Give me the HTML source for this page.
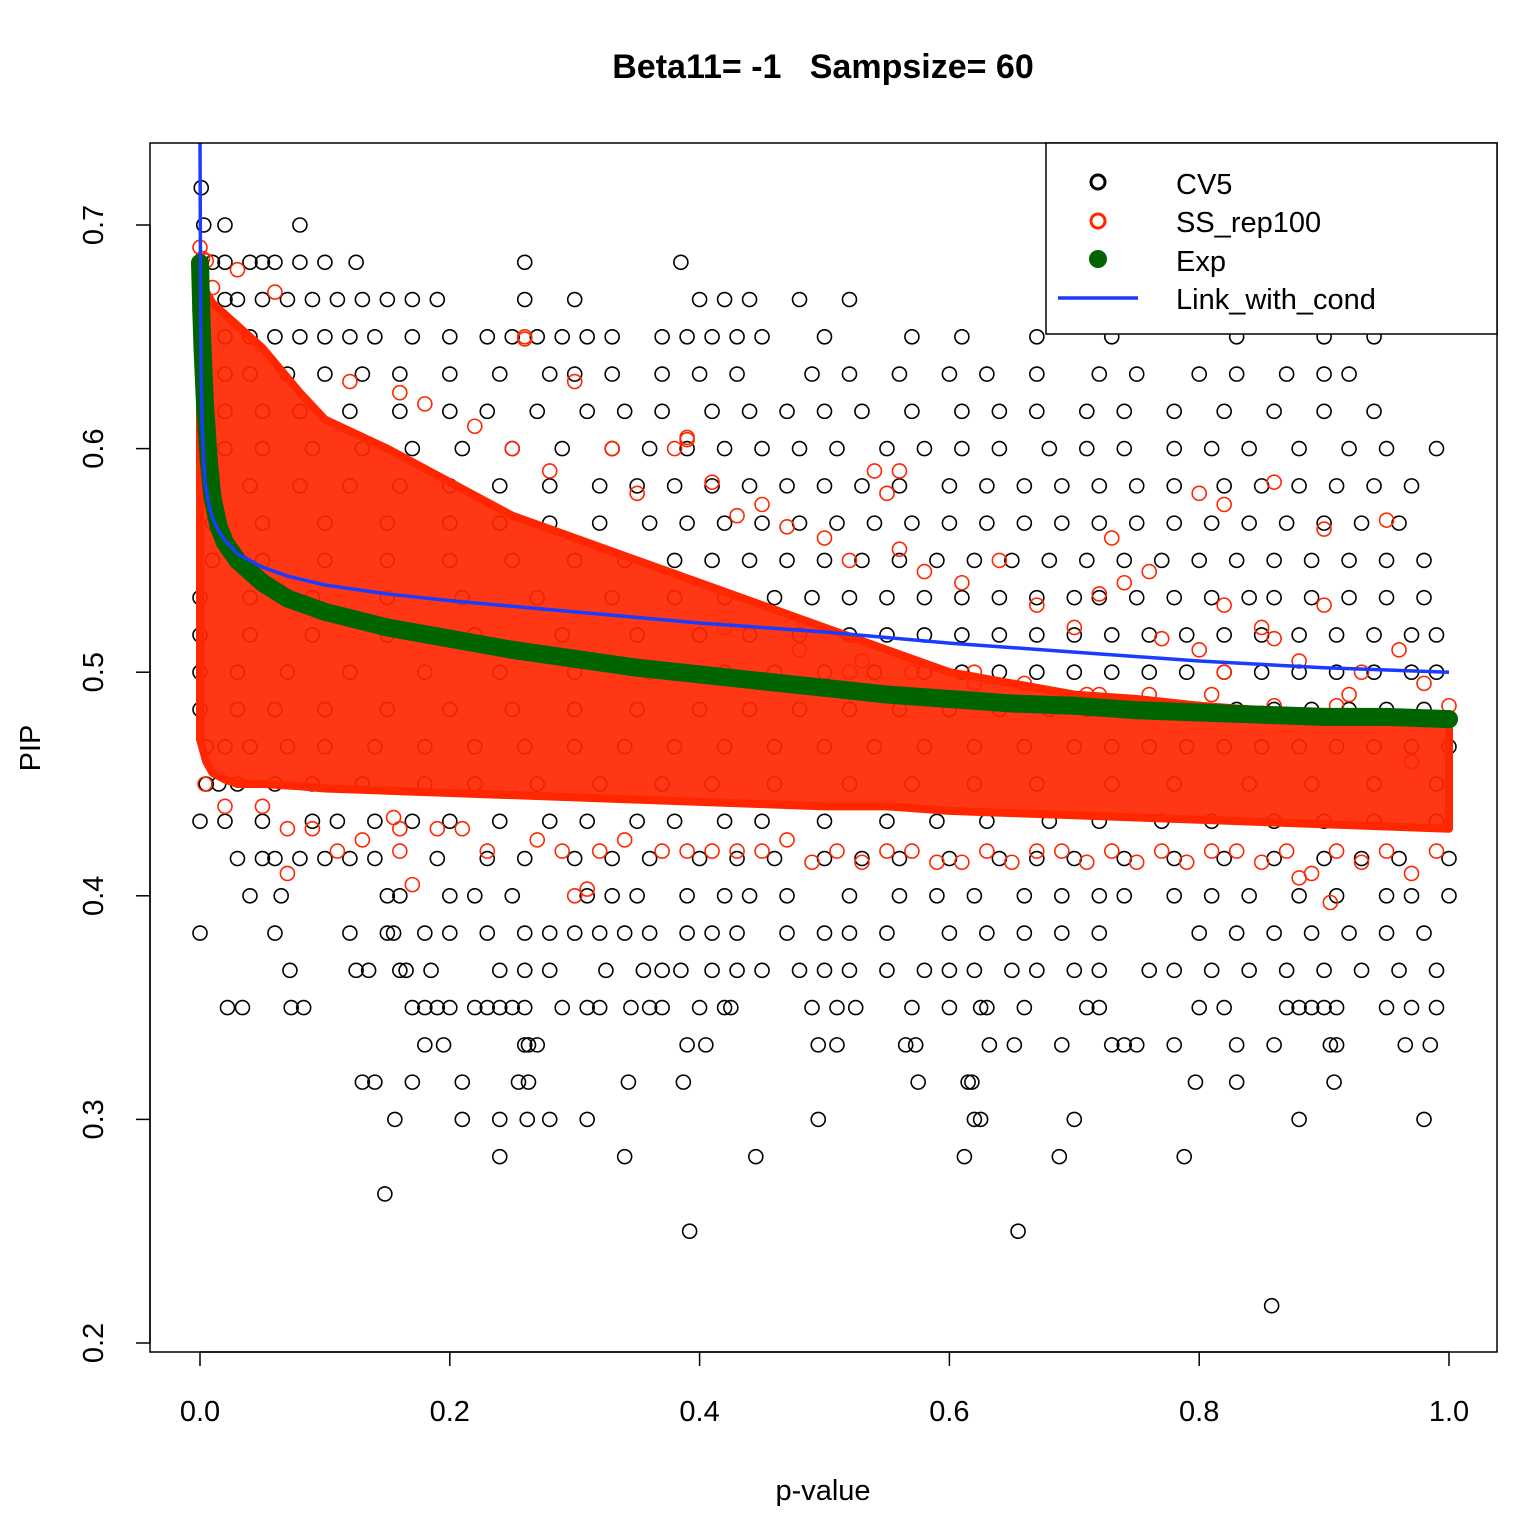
<!DOCTYPE html>
<html><head><meta charset="utf-8"><style>
body{margin:0;background:#fff}
svg text{font-family:"Liberation Sans",Arial,sans-serif}
</style></head><body>
<svg id="chart" width="1518" height="1516" viewBox="0 0 1518 1516" xmlns="http://www.w3.org/2000/svg">
<rect width="1518" height="1516" fill="#fff"/>
<text x="823" y="78" text-anchor="middle" font-size="34" font-weight="bold" style="white-space:pre" xml:space="preserve">Beta11= -1   Sampsize= 60</text>
<g id="marks"></g>
<rect x="150" y="143" width="1347" height="1209" fill="none" stroke="#000" stroke-width="1.5"/>
<g id="axes"></g>
<text x="823" y="1500" text-anchor="middle" font-size="29">p-value</text>
<text transform="translate(40,748) rotate(-90)" text-anchor="middle" font-size="29">PIP</text>
<g>
<rect x="1046" y="143" width="451" height="191" fill="#fff" stroke="#000" stroke-width="1.5"/>
<g><circle cx="1098" cy="182" r="7" fill="none" stroke="#000" stroke-width="3"/><text x="1176" y="194" font-size="29">CV5</text></g>
<g><circle cx="1098" cy="221" r="7" fill="none" stroke="#ff2600" stroke-width="3"/><text x="1176" y="232" font-size="29">SS_rep100</text></g>
<g><circle cx="1098" cy="259" r="9" fill="#006400"/><text x="1176" y="271" font-size="29">Exp</text></g>
<g><line x1="1058" y1="298" x2="1138" y2="298" stroke="#1a3cff" stroke-width="3.5"/><text x="1176" y="309" font-size="29">Link_with_cond</text></g>
</g>
</svg>
<script>
const xTicks=[0,0.2,0.4,0.6,0.8,1.0];
const xTickLabels=["0.0","0.2","0.4","0.6","0.8","1.0"];
const yTicks=[0.2,0.3,0.4,0.5,0.6,0.7];
const yTickLabels=["0.2","0.3","0.4","0.5","0.6","0.7"];
const cvLevels=[13,15,16,17,18,19,20,21,22,23,24,25,26,27,28,29,30,31,32,33,34,35,36,37,38,39,40,41,42,43];
const cvP=[
[0.858],
[0.392,0.655],
[0.148],
[0.24,0.34,0.445,0.612,0.688,0.788],
[0.156,0.21,0.24,0.262,0.28,0.31,0.495,0.62,0.625,0.70,0.88,0.98],
[0.13,0.14,0.17,0.21,0.255,0.263,0.343,0.387,0.575,0.615,0.618,0.797,0.83,0.908],
[0.18,0.195,0.26,0.263,0.27,0.39,0.405,0.495,0.51,0.565,0.573,0.632,0.652,0.69,0.73,0.74,0.75,0.78,0.83,0.86,0.905,0.91,0.965,0.985],
[0.022,0.034,0.073,0.083,0.17,0.18,0.19,0.2,0.22,0.23,0.24,0.25,0.26,0.29,0.31,0.32,0.345,0.36,0.37,0.4,0.42,0.425,0.49,0.51,0.525,0.57,0.6,0.625,0.63,0.66,0.71,0.72,0.8,0.82,0.87,0.88,0.89,0.9,0.91,0.95,0.97,0.99],
[0.072,0.125,0.135,0.16,0.165,0.185,0.24,0.26,0.28,0.325,0.355,0.37,0.385,0.41,0.43,0.45,0.48,0.5,0.52,0.55,0.58,0.6,0.62,0.65,0.67,0.7,0.72,0.76,0.78,0.81,0.84,0.87,0.9,0.93,0.96,0.99],
[0.0,0.06,0.12,0.15,0.155,0.18,0.2,0.23,0.26,0.28,0.3,0.32,0.34,0.36,0.39,0.41,0.43,0.47,0.5,0.52,0.55,0.6,0.63,0.66,0.69,0.72,0.8,0.83,0.86,0.89,0.92,0.95,0.98],
[0.04,0.065,0.15,0.16,0.2,0.22,0.25,0.31,0.33,0.35,0.39,0.42,0.44,0.47,0.52,0.56,0.59,0.62,0.66,0.69,0.72,0.74,0.78,0.81,0.84,0.88,0.91,0.95,0.97,1.0],
[0.03,0.05,0.06,0.08,0.1,0.12,0.14,0.19,0.23,0.26,0.3,0.33,0.36,0.4,0.43,0.46,0.5,0.53,0.56,0.6,0.64,0.67,0.7,0.74,0.78,0.82,0.86,0.9,0.93,0.96,1.0],
[0.0,0.02,0.05,0.09,0.11,0.14,0.17,0.2,0.24,0.28,0.31,0.35,0.38,0.42,0.45,0.5,0.55,0.59,0.63,0.68,0.72,0.77,0.81,0.86,0.9,0.94,0.99],
[0.005,0.015,0.03,0.06,0.09,0.13,0.18,0.22,0.27,0.32,0.37,0.41,0.46,0.52,0.57,0.62,0.67,0.73,0.78,0.84,0.89,0.94,0.99],
[0.005,0.02,0.04,0.07,0.1,0.14,0.18,0.22,0.26,0.3,0.34,0.38,0.42,0.46,0.5,0.54,0.58,0.62,0.66,0.7,0.73,0.76,0.79,0.82,0.85,0.88,0.91,0.94,0.97,1.0],
[0.0,0.03,0.06,0.1,0.15,0.2,0.25,0.3,0.35,0.4,0.44,0.48,0.52,0.56,0.6,0.64,0.68,0.71,0.74,0.77,0.8,0.83,0.86,0.89,0.92,0.95,0.98],
[0.0,0.03,0.07,0.12,0.18,0.24,0.3,0.36,0.42,0.46,0.5,0.54,0.58,0.61,0.64,0.67,0.7,0.73,0.76,0.79,0.82,0.85,0.88,0.91,0.94,0.97,0.99],
[0.0,0.04,0.09,0.15,0.22,0.29,0.35,0.4,0.44,0.48,0.52,0.55,0.58,0.61,0.64,0.67,0.7,0.73,0.76,0.79,0.82,0.85,0.88,0.91,0.94,0.97,0.99],
[0.0,0.04,0.09,0.15,0.21,0.27,0.33,0.38,0.42,0.46,0.49,0.52,0.55,0.58,0.61,0.64,0.67,0.7,0.72,0.75,0.78,0.81,0.84,0.86,0.89,0.92,0.95,0.98],
[0.01,0.05,0.1,0.15,0.2,0.25,0.3,0.34,0.38,0.41,0.44,0.47,0.5,0.53,0.56,0.59,0.62,0.65,0.68,0.71,0.74,0.77,0.8,0.83,0.86,0.89,0.92,0.95,0.98],
[0.01,0.05,0.1,0.15,0.2,0.24,0.28,0.32,0.36,0.39,0.42,0.45,0.48,0.51,0.54,0.57,0.6,0.63,0.66,0.69,0.72,0.75,0.78,0.81,0.84,0.87,0.9,0.93,0.96],
[0.01,0.04,0.08,0.12,0.16,0.2,0.24,0.28,0.32,0.35,0.38,0.41,0.44,0.47,0.5,0.53,0.56,0.6,0.63,0.66,0.69,0.72,0.75,0.78,0.82,0.85,0.88,0.91,0.94,0.97],
[0.02,0.05,0.09,0.13,0.17,0.21,0.25,0.29,0.33,0.36,0.39,0.42,0.45,0.48,0.51,0.55,0.58,0.61,0.64,0.68,0.71,0.74,0.78,0.81,0.84,0.88,0.92,0.95,0.99],
[0.02,0.05,0.08,0.12,0.16,0.2,0.23,0.27,0.31,0.34,0.37,0.41,0.44,0.47,0.5,0.53,0.57,0.61,0.64,0.67,0.71,0.74,0.78,0.82,0.86,0.9,0.94],
[0.02,0.04,0.07,0.1,0.13,0.16,0.2,0.24,0.28,0.3,0.33,0.37,0.4,0.43,0.49,0.52,0.56,0.6,0.63,0.67,0.72,0.75,0.8,0.83,0.87,0.9,0.92],
[0.02,0.04,0.06,0.08,0.1,0.12,0.14,0.17,0.2,0.23,0.25,0.27,0.29,0.31,0.33,0.37,0.39,0.41,0.43,0.45,0.5,0.57,0.61,0.67,0.73,0.83,0.9,0.94],
[0.02,0.03,0.05,0.07,0.09,0.11,0.13,0.15,0.17,0.19,0.26,0.3,0.4,0.42,0.44,0.48,0.52,0.83],
[0.01,0.02,0.04,0.05,0.06,0.08,0.1,0.125,0.26,0.385],
[0.003,0.02,0.08],
[0.001],
[0.0]
];
const ssBandP=[0,0.005,0.01,0.02,0.03,0.05,0.08,0.1,0.15,0.2,0.25,0.3,0.35,0.4,0.45,0.5,0.55,0.6,0.65,0.7,0.75,0.8,0.85,0.9,0.95,1.0];
const ssBandLo=[0.47,0.46,0.455,0.452,0.45,0.45,0.449,0.448,0.447,0.446,0.445,0.444,0.443,0.442,0.441,0.44,0.44,0.438,0.437,0.436,0.435,0.434,0.433,0.432,0.431,0.43];
const ssBandHi=[0.68,0.67,0.665,0.66,0.655,0.645,0.625,0.613,0.6,0.585,0.57,0.56,0.55,0.54,0.53,0.52,0.51,0.5,0.495,0.49,0.488,0.485,0.483,0.482,0.481,0.48];
const ssP=[0.0,0.002,0.005,0.01,0.03,0.06,0.12,0.16,0.18,0.22,0.25,0.26,0.28,0.3,0.33,0.35,0.38,0.39,0.41,0.43,0.45,0.47,0.5,0.52,0.55,0.56,0.58,0.61,0.64,0.67,0.7,0.72,0.74,0.77,0.8,0.82,0.85,0.86,0.88,0.9,0.93,0.96,0.98,
0.02,0.05,0.07,0.09,0.11,0.13,0.16,0.19,0.21,0.23,0.27,0.29,0.32,0.34,0.37,0.39,0.41,0.43,0.45,0.47,0.49,0.51,0.53,0.55,0.57,0.59,0.61,0.63,0.65,0.67,0.69,0.71,0.73,0.75,0.77,0.79,0.81,0.83,0.85,0.87,0.89,0.91,0.93,0.95,0.97,0.99,
0.42,0.48,0.53,0.57,0.62,0.66,0.71,0.76,0.81,0.86,0.91,0.96,1.0,0.52,0.62,0.72,0.82,0.92,0.97,
0.004,0.07,0.16,0.3,0.155,0.17,0.31,0.33,0.39,0.26,0.54,0.56,0.9,0.95,0.97,0.73,0.76,0.8,0.82,0.86,0.88,0.905];
const ssY=[0.69,0.685,0.684,0.672,0.68,0.67,0.63,0.625,0.62,0.61,0.6,0.65,0.59,0.63,0.6,0.58,0.6,0.605,0.585,0.57,0.575,0.565,0.56,0.55,0.58,0.555,0.545,0.54,0.55,0.53,0.52,0.535,0.54,0.515,0.51,0.53,0.52,0.515,0.505,0.53,0.5,0.51,0.495,
0.44,0.44,0.43,0.43,0.42,0.425,0.42,0.43,0.43,0.42,0.425,0.42,0.42,0.425,0.42,0.42,0.42,0.42,0.42,0.425,0.415,0.42,0.415,0.42,0.42,0.415,0.415,0.42,0.415,0.42,0.42,0.415,0.42,0.415,0.42,0.415,0.42,0.42,0.415,0.42,0.41,0.42,0.415,0.42,0.41,0.42,
0.52,0.51,0.505,0.5,0.5,0.495,0.49,0.49,0.49,0.485,0.485,0.48,0.485,0.5,0.495,0.49,0.5,0.49,0.48,
0.45,0.41,0.43,0.4,0.435,0.405,0.403,0.6,0.604,0.649,0.59,0.59,0.564,0.568,0.46,0.56,0.545,0.58,0.575,0.585,0.408,0.397];
const expP=[0,0.001,0.002,0.004,0.007,0.01,0.015,0.02,0.03,0.05,0.07,0.1,0.15,0.2,0.25,0.3,0.35,0.4,0.45,0.5,0.55,0.6,0.65,0.7,0.75,0.8,0.85,0.9,0.95,1.0];
const expY=[0.683,0.662,0.645,0.62,0.595,0.578,0.565,0.558,0.55,0.54,0.533,0.527,0.52,0.515,0.51,0.506,0.502,0.499,0.496,0.493,0.49,0.488,0.486,0.485,0.483,0.482,0.481,0.48,0.48,0.479];
const linkP=[0,0.0005,0.001,0.002,0.004,0.007,0.01,0.015,0.02,0.03,0.05,0.07,0.1,0.15,0.2,0.3,0.4,0.5,0.6,0.7,0.8,0.9,1.0];
const linkY=[0.74,0.66,0.63,0.605,0.585,0.575,0.569,0.563,0.559,0.553,0.547,0.543,0.539,0.535,0.532,0.527,0.522,0.518,0.513,0.509,0.505,0.502,0.5];

const NS="http://www.w3.org/2000/svg";
const X=p=>200+p*1249;
const Y=v=>225+(0.7-v)*2236;
const marks=document.getElementById('marks');
const axes=document.getElementById('axes');
function mk(tag,attrs,parent){const e=document.createElementNS(NS,tag);for(const k in attrs)e.setAttribute(k,attrs[k]);parent.appendChild(e);return e;}
const clip=mk('clipPath',{id:'pc'},marks);mk('rect',{x:150,y:143,width:1347,height:1209},clip);
const g=mk('g',{'clip-path':'url(#pc)'},marks);

const gb=mk('g',{},g);


cvLevels.forEach((k,i)=>{cvP[i].forEach(p=>{
 const c=mk('circle',{cx:X(p),cy:Y(k/60),r:7,fill:'none',stroke:'#000','stroke-width':1.6},gb);
 
 
});});
const gr=mk('g',{},g);


let d='';
ssBandP.forEach((p,i)=>{d+=(i?'L':'M')+X(p)+','+Y(ssBandHi[i]);});
for(let i=ssBandP.length-1;i>=0;i--)d+='L'+X(ssBandP[i])+','+Y(ssBandLo[i]);
const band=mk('path',{d:d+'Z',fill:'#ff2600',stroke:'#ff2600','stroke-width':8,'stroke-linejoin':'round','fill-opacity':0.92},gr);


ssP.forEach((p,i)=>{
 const c=mk('circle',{cx:X(p),cy:Y(ssY[i]),r:7,fill:'none',stroke:'#ff2600','stroke-width':1.6},gr);
 
 
});
const gg=mk('g',{},g);


const ep=mk('polyline',{points:expP.map((p,i)=>X(p)+','+Y(expY[i])).join(' '),fill:'none',stroke:'#006400','stroke-width':18,'stroke-linejoin':'round','stroke-linecap':'round'},gg);


expP.forEach((p,i)=>{
 const c=mk('circle',{cx:X(p),cy:Y(expY[i]),r:9,fill:'#006400'},gg);
 
 
});
const bl=mk('polyline',{points:linkP.map((p,i)=>X(p)+','+Y(linkY[i])).join(' '),fill:'none',stroke:'#1a3cff','stroke-width':3.5},g);



mk('line',{x1:X(0),y1:1352,x2:X(1),y2:1352,stroke:'#000','stroke-width':1.5},axes);
xTicks.forEach((t,i)=>{
 mk('line',{x1:X(t),y1:1352,x2:X(t),y2:1366,stroke:'#000','stroke-width':1.5},axes);
 const tx=mk('text',{x:X(t),y:1421,'text-anchor':'middle','font-size':29},axes);
 tx.textContent=xTickLabels[i];
 
 
});
mk('line',{x1:150,y1:Y(0.2),x2:150,y2:Y(0.7),stroke:'#000','stroke-width':1.5},axes);
yTicks.forEach((t,i)=>{
 mk('line',{x1:136,y1:Y(t),x2:150,y2:Y(t),stroke:'#000','stroke-width':1.5},axes);
 const tx=mk('text',{transform:`translate(103,${Y(t)}) rotate(-90)`,'text-anchor':'middle','font-size':29},axes);
 tx.textContent=yTickLabels[i];
 
 
});
</script>
</body></html>
